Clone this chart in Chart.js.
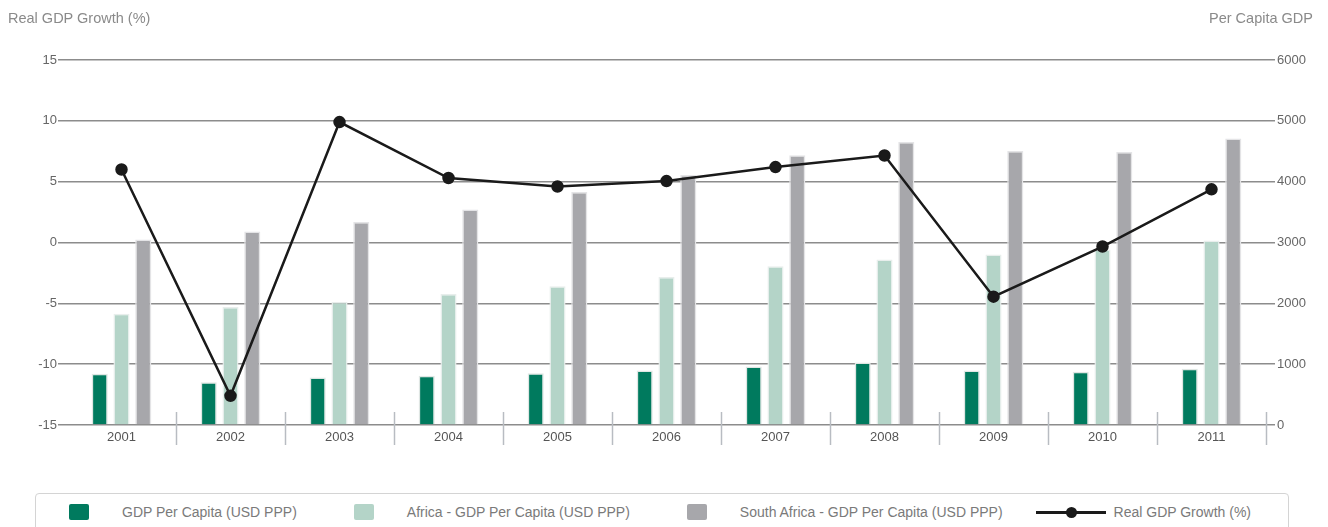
<!DOCTYPE html>
<html>
<head>
<meta charset="utf-8">
<script src="https://cdn.jsdelivr.net/npm/chart.js@4.4.1/dist/chart.umd.min.js"></script>
<style>
  body { margin: 0; background: #fff; font-family: "Liberation Sans", Arial, sans-serif; }
  #wrap { position: relative; width: 1328px; height: 527px; overflow: hidden; }
  .axis-title { position: absolute; top: 10px; font-size: 14.5px; color: #8a8a8a; }
  #legend { position: absolute; left: 35px; top: 493px; width: 1254px; height: 50px;
            border: 1px solid #d4d4d4; border-radius: 4px; display: flex; align-items: flex-start;
            padding-left: 33px; box-sizing: border-box; }
  .item { display: flex; align-items: center; height: 36px; font-size: 14px; color: #7a7a7a; white-space: nowrap; }
  .box { width: 20px; height: 16px; border-radius: 2px; margin-right: 33px; }
  .lineMark { position: relative; width: 70px; height: 3px; background: #1a1a1a; margin-right: 8px; }
  .lineMark span { position: absolute; left: 30px; top: -4px; width: 11px; height: 11px; border-radius: 50%; background: #1a1a1a; }
</style>
</head>
<body>
<div id="wrap">
  <div class="axis-title" style="left:8px">Real GDP Growth (%)</div>
  <div class="axis-title" style="right:15px">Per Capita GDP</div>
  <canvas id="chart" width="1328" height="490"></canvas>
  <div id="legend"></div>
</div>
<script>
// datos
const years = ["2001", "2002", "2003", "2004", "2005", "2006", "2007", "2008", "2009", "2010", "2011"];
const gdpPerCapita = [841, 703, 780, 808, 852, 896, 962, 1027, 896, 874, 923];
const africaPerCapita = [1830, 1940, 2022, 2154, 2280, 2434, 2610, 2720, 2802, 2885, 3033];
const southAfricaPerCapita = [3049, 3181, 3335, 3544, 3830, 4110, 4434, 4654, 4505, 4489, 4709];
const realGdpGrowth = [6.0, -12.6, 9.9, 5.3, 4.6, 5.05, 6.2, 7.15, -4.45, -0.33, 4.37];

const gridColor = "#8c8c8c";

// separadores verticales entre categorías
const separators = {
  id: "separators",
  afterDraw(chart) {
    const x = chart.scales.x;
    const ctx = chart.ctx;
    const n = years.length;
    const w = x.width / n;
    ctx.save();
    ctx.strokeStyle = "#b8bcc2";
    ctx.lineWidth = 1.5;
    for (let i = 1; i <= n; i++) {
      const px = Math.round(x.left + i * w) + 0.5;
      ctx.beginPath();
      ctx.moveTo(px, chart.chartArea.bottom - 13);
      ctx.lineTo(px, chart.chartArea.bottom + 20);
      ctx.stroke();
    }
    ctx.restore();
  }
};

// leyenda en HTML a partir de los datasets
const htmlLegend = {
  id: "htmlLegend",
  afterUpdate(chart) {
    const box = document.getElementById("legend");
    box.innerHTML = "";
    chart.data.datasets.forEach((ds) => {
      const item = document.createElement("div");
      item.className = "item";
      if (ds.type === "line") {
        item.style.marginLeft = "-24px";
        const m = document.createElement("div");
        m.className = "lineMark";
        m.appendChild(document.createElement("span"));
        item.appendChild(m);
      } else {
        const m = document.createElement("div");
        m.className = "box";
        m.style.background = ds.backgroundColor;
        item.appendChild(m);
        item.style.marginRight = "57px";
      }
      const t = document.createElement("span");
      t.textContent = ds.label;
      item.appendChild(t);
      box.appendChild(item);
    });
  }
};

Chart.defaults.font.family = "'Liberation Sans', Arial, sans-serif";
Chart.defaults.font.size = 13;
Chart.defaults.color = "#555";

new Chart(document.getElementById("chart"), {
  data: {
    labels: years,
    datasets: [
      {
        type: "bar",
        label: "GDP Per Capita (USD PPP)",
        data: gdpPerCapita,
        yAxisID: "y1",
        backgroundColor: "#007a5e",
        borderColor: "#dfe6e3",
        borderWidth: 1.5,
        order: 1
      },
      {
        type: "bar",
        label: "Africa - GDP Per Capita (USD PPP)",
        data: africaPerCapita,
        yAxisID: "y1",
        backgroundColor: "#b4d4c8",
        borderColor: "#e8eeec",
        borderWidth: 1.5,
        order: 1
      },
      {
        type: "bar",
        label: "South Africa - GDP Per Capita (USD PPP)",
        data: southAfricaPerCapita,
        yAxisID: "y1",
        backgroundColor: "#a7a7ab",
        borderColor: "#e4e4e6",
        borderWidth: 1.5,
        order: 1
      },
      {
        type: "line",
        label: "Real GDP Growth (%)",
        data: realGdpGrowth,
        yAxisID: "y",
        borderColor: "#1a1a1a",
        backgroundColor: "#1a1a1a",
        borderWidth: 2.5,
        pointRadius: 5,
        pointHoverRadius: 5,
        tension: 0,
        order: 0
      }
    ]
  },
  options: {
    responsive: false,
    animation: false,
    layout: { padding: { top: 60, left: 0, right: 0, bottom: 0 } },
    plugins: { legend: { display: false }, tooltip: { enabled: false } },
    datasets: { bar: { categoryPercentage: 0.6, barPercentage: 0.74 } },
    scales: {
      x: {
        grid: { display: false, drawTicks: false },
        border: { display: false },
        ticks: { padding: 5, color: "#555" },
        afterFit: (s) => { s.height = 65; }
      },
      y: {
        position: "left",
        min: -15,
        max: 15,
        ticks: { stepSize: 5, padding: 1, color: "#666", callback: (v) => String(v) },
        grid: { color: gridColor, lineWidth: 1.5, tickLength: 9 },
        border: { display: false },
        afterFit: (s) => { s.width = 67; }
      },
      y1: {
        position: "right",
        min: 0,
        max: 6000,
        ticks: { stepSize: 1000, padding: 2, color: "#666", callback: (v) => String(v) },
        grid: { drawOnChartArea: false, color: gridColor, lineWidth: 1.5, tickLength: 9 },
        border: { display: false },
        afterFit: (s) => { s.width = 62; }
      }
    }
  },
  plugins: [separators, htmlLegend]
});
</script>
</body>
</html>
